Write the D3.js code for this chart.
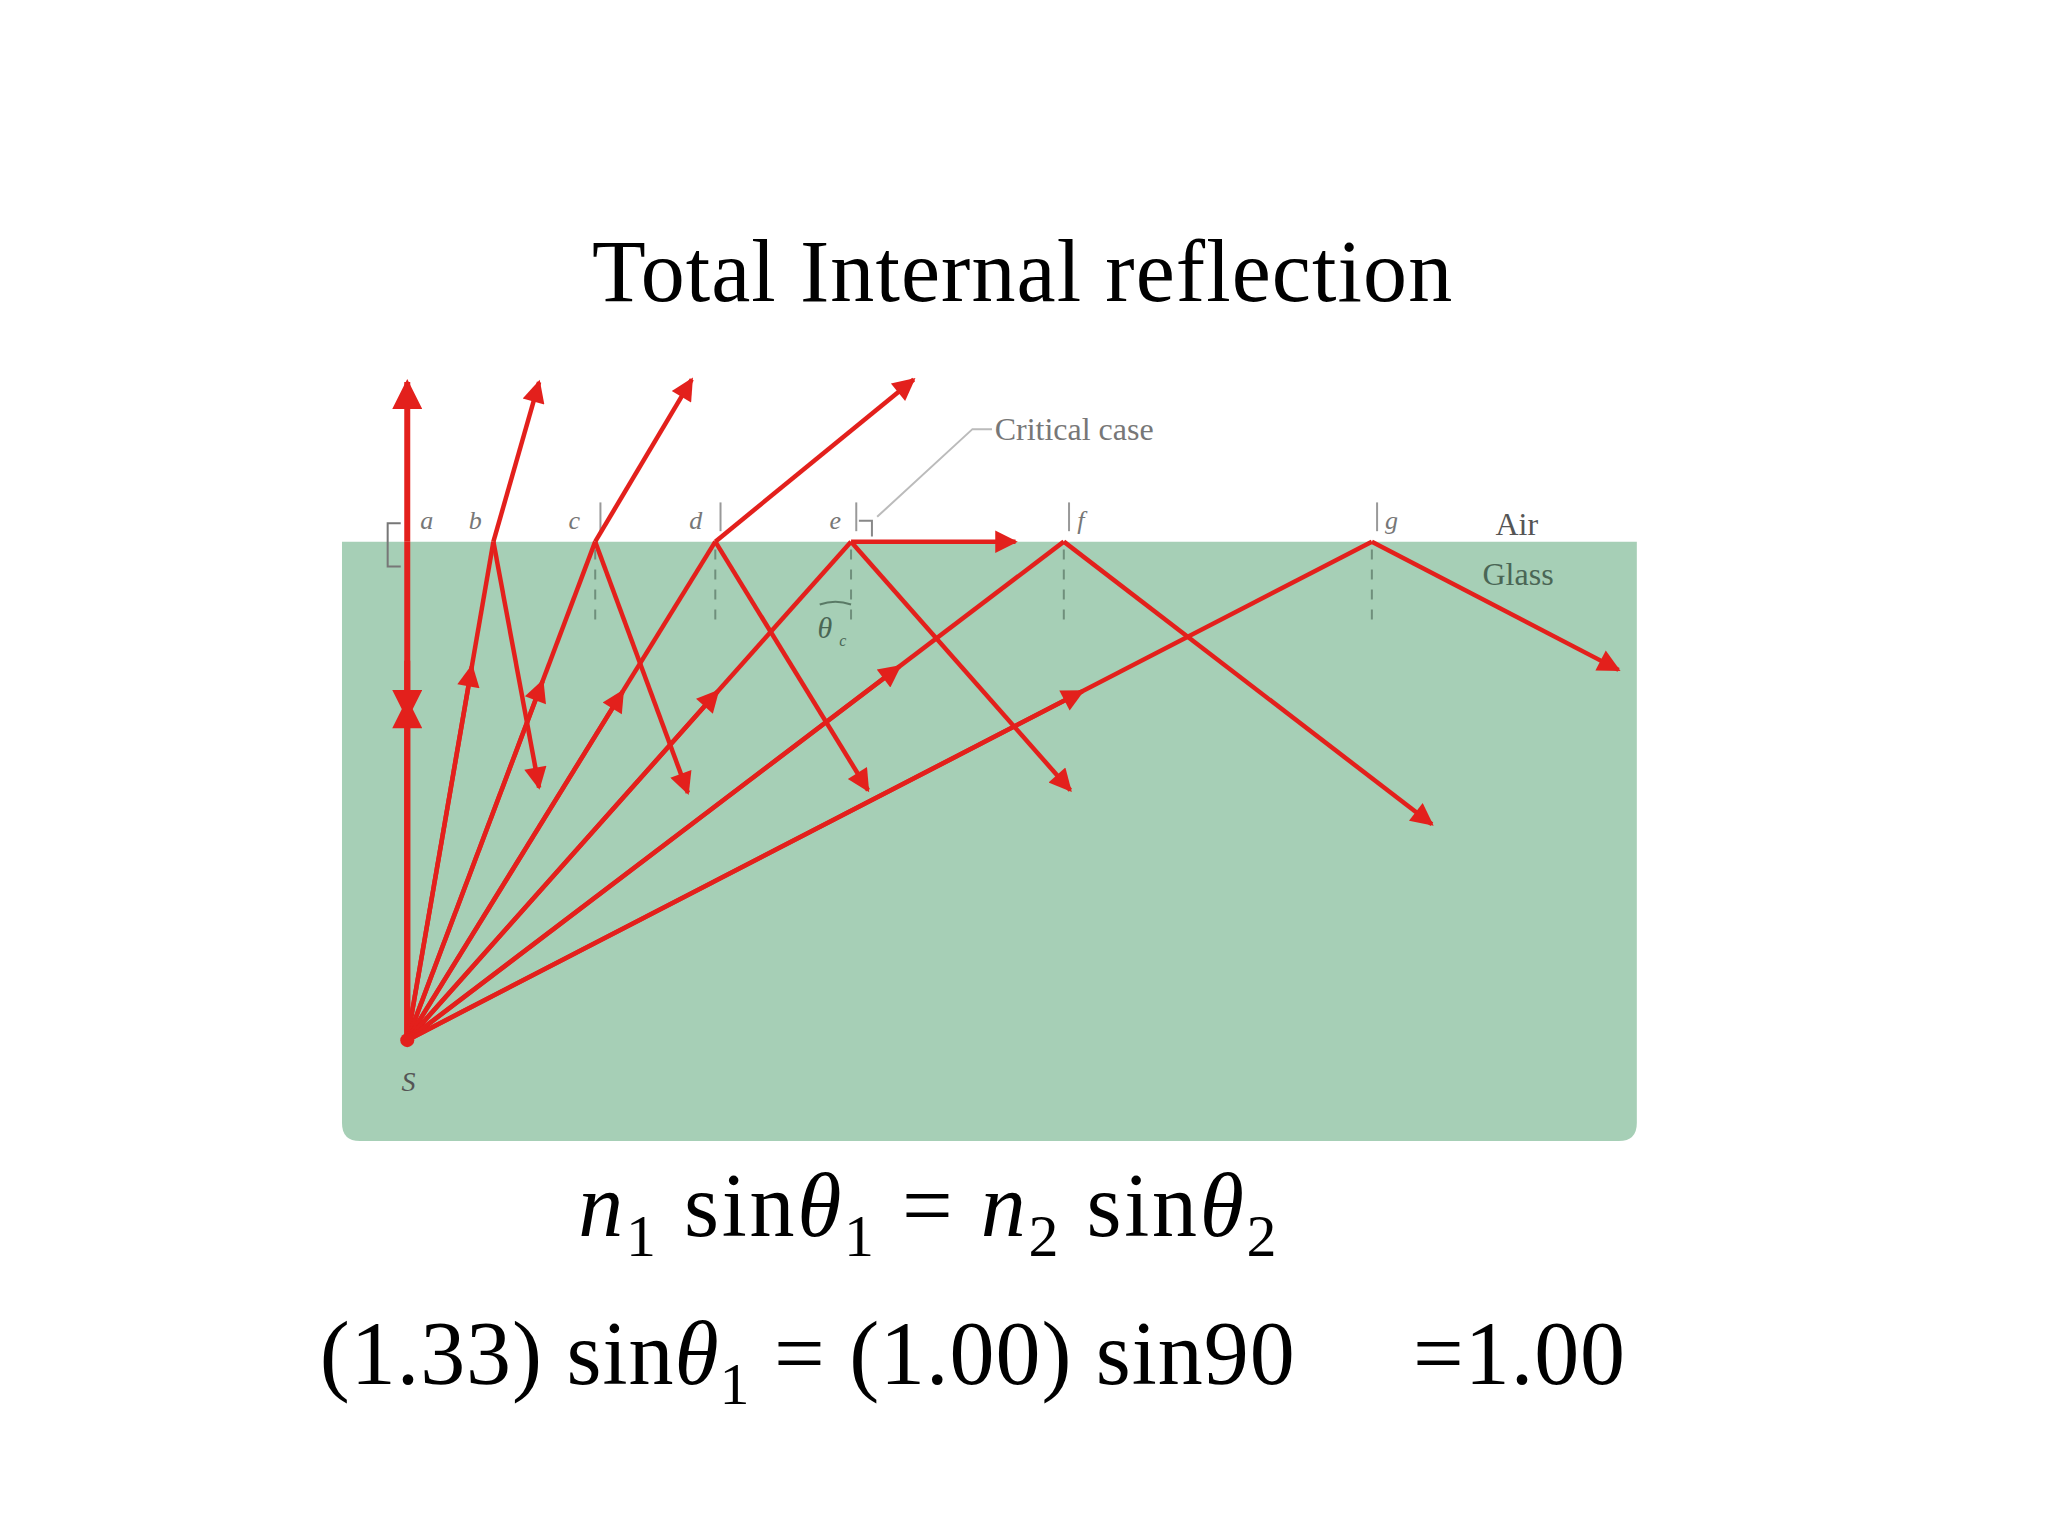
<!DOCTYPE html><html><head><meta charset="utf-8">
<script src="https://cdn.jsdelivr.net/npm/d3@7"></script>
<style>body{margin:0;background:#fff}</style></head><body>
<svg id="c" width="2048" height="1536"></svg>
<script>
// diagram data (in reference-image units, 1552x1164 frame)
const labels=["a","b","c","d","e","f","g"];
const hitX=[312,378,456,548,652,815,1051];
const refrEnd=[[312,292],[413,292],[530,290],[700,290],[778,414],null,null];
const reflEnd=[null,[413,602],[527,606],[665,604],[820,604],[1097,630],[1240,512]];
const midFrac=[0.68,0.75,0.72,0.7,0.7,0.75,0.7];
const source=[312,795], surfaceY=414;
const glassBox=[262,414,1254,872];

const svg=d3.select("#c");
const x=d3.scaleLinear().domain([0,1569]).range([0,2048]);
const y=d3.scaleLinear().domain([0,1174]).range([0,1536]);
const red="#e3201c";
svg.append("defs").append("marker").attr("id","ar").attr("viewBox","0 0 10 10")
 .attr("refX",9).attr("refY",5).attr("markerWidth",6).attr("markerHeight",5).attr("orient","auto")
 .attr("markerUnits","strokeWidth")
 .append("path").attr("d","M0,0L10,5L0,10z").attr("fill",red);

svg.append("text").attr("x",x(783)).attr("y",y(230)).attr("text-anchor","middle")
 .attr("font-family","Liberation Serif").attr("font-size",88).attr("textLength",x(1112)-x(453)).text("Total Internal reflection");

svg.append("path").attr("fill","#a6cfb6")
 .attr("d",()=>{const [x0,y0,x1,y1]=glassBox.map((v,i)=>i%2?y(v):x(v));const r=18;
  return `M${x0},${y0}H${x1}V${y1-r}Q${x1},${y1} ${x1-r},${y1}H${x0+r}Q${x0},${y1} ${x0},${y1-r}Z`;});

const g=svg.append("g");
hitX.forEach((hx,i)=>{
  if(i>=2){g.append("line").attr("x1",x(hx)).attr("x2",x(hx)).attr("y1",y(surfaceY+6)).attr("y2",y(476))
   .attr("stroke","#6f8f7c").attr("stroke-width",2).attr("stroke-dasharray","10,10");
   g.append("line").attr("x1",x(hx+4)).attr("x2",x(hx+4)).attr("y1",y(384)).attr("y2",y(406))
   .attr("stroke","#999").attr("stroke-width",2);}
  const lx=[327,364,440,533,640,828,1066][i];
  g.append("text").attr("x",x(lx)).attr("y",y(404)).attr("text-anchor","middle")
   .attr("font-family","Liberation Serif").attr("font-style","italic").attr("font-size",26).attr("fill","#777").text(labels[i]);
});
g.append("path").attr("d",`M${x(307)},${y(400)}H${x(297)}V${y(433)}H${x(307)}`).attr("fill","none").attr("stroke","#777").attr("stroke-width",2);
g.append("path").attr("d",`M${x(658)},${y(398)}H${x(668)}V${y(410)}`).attr("fill","none").attr("stroke","#888").attr("stroke-width",2);
g.append("path").attr("d",`M${x(672)},${y(395)}L${x(745)},${y(328)}H${x(760)}`).attr("fill","none").attr("stroke","#bbb").attr("stroke-width",2);
g.append("text").attr("x",x(762)).attr("y",y(336)).attr("font-family","Liberation Serif").attr("font-size",32).attr("fill","#777").text("Critical case");
g.append("text").attr("x",x(1162)).attr("y",y(409)).attr("text-anchor","middle").attr("font-family","Liberation Serif").attr("font-size",32).attr("fill","#555").text("Air");
g.append("text").attr("x",x(1163)).attr("y",y(447)).attr("text-anchor","middle").attr("font-family","Liberation Serif").attr("font-size",32).attr("fill","#4a6655").text("Glass");
g.append("path").attr("d",`M${x(628)},${y(462)}Q${x(640)},${y(458)} ${x(652)},${y(462)}`).attr("fill","none").attr("stroke","#5a7a66").attr("stroke-width",2);
g.append("text").attr("x",x(632)).attr("y",y(488)).attr("text-anchor","middle").attr("font-family","Liberation Serif").attr("font-style","italic").attr("font-size",30).attr("fill","#4a6655").text("θ");
g.append("text").attr("x",x(643)).attr("y",y(494)).attr("font-family","Liberation Serif").attr("font-style","italic").attr("font-size",16).attr("fill","#4a6655").text("c");

const seg=(p,q,arrow,w)=>g.append("line").attr("x1",x(p[0])).attr("y1",y(p[1])).attr("x2",x(q[0])).attr("y2",y(q[1]))
 .attr("stroke",red).attr("stroke-width",w||4.5).attr("marker-end",arrow?"url(#ar)":null);
hitX.forEach((hx,i)=>{
  const hit=[hx,surfaceY];
  const w=i==0?6:4.5;
  seg(source,hit,false,w);
  const f=midFrac[i];
  seg(source,[source[0]+(hx-source[0])*f,source[1]+(surfaceY-source[1])*f],true,w);
  if(refrEnd[i]) seg(hit,refrEnd[i],true,w);
  if(reflEnd[i]) seg(hit,reflEnd[i],true,w);
});
seg([312,505],[312,548],true,6);
svg.append("circle").attr("cx",x(source[0])).attr("cy",y(source[1])).attr("r",7).attr("fill",red);
g.append("text").attr("x",x(313)).attr("y",y(834)).attr("text-anchor","middle").attr("font-family","Liberation Serif").attr("font-style","italic").attr("font-size",28).attr("fill","#555").text("S");

// equations
const eq=svg.append("g").attr("font-family","Liberation Serif").attr("font-size",90);
function line(yy,x0,x1,parts){let t=eq.append("text").attr("x",x(x0)).attr("y",y(yy))
  .attr("textLength",x(x1)-x(x0)).attr("lengthAdjust","spacing");
 parts.forEach(([s,it,sub])=>{t.append("tspan").attr("font-style",it?"italic":null)
  .attr("font-size",sub?60:null).attr("baseline-shift",sub?-20:null).text(s);});}
line(945,443,978,[["n",1],["1",0,1],[" sin"],["θ",1],["1",0,1],[" = "],["n",1],["2",0,1],[" sin"],["θ",1],["2",0,1]]);
line(1058,245,1245,[["(1.33) sin"],["θ",1],["1",0,1],[" = (1.00) sin90\u00a0\u00a0\u00a0\u00a0\u00a0=1.00"]]);
</script></body></html>
